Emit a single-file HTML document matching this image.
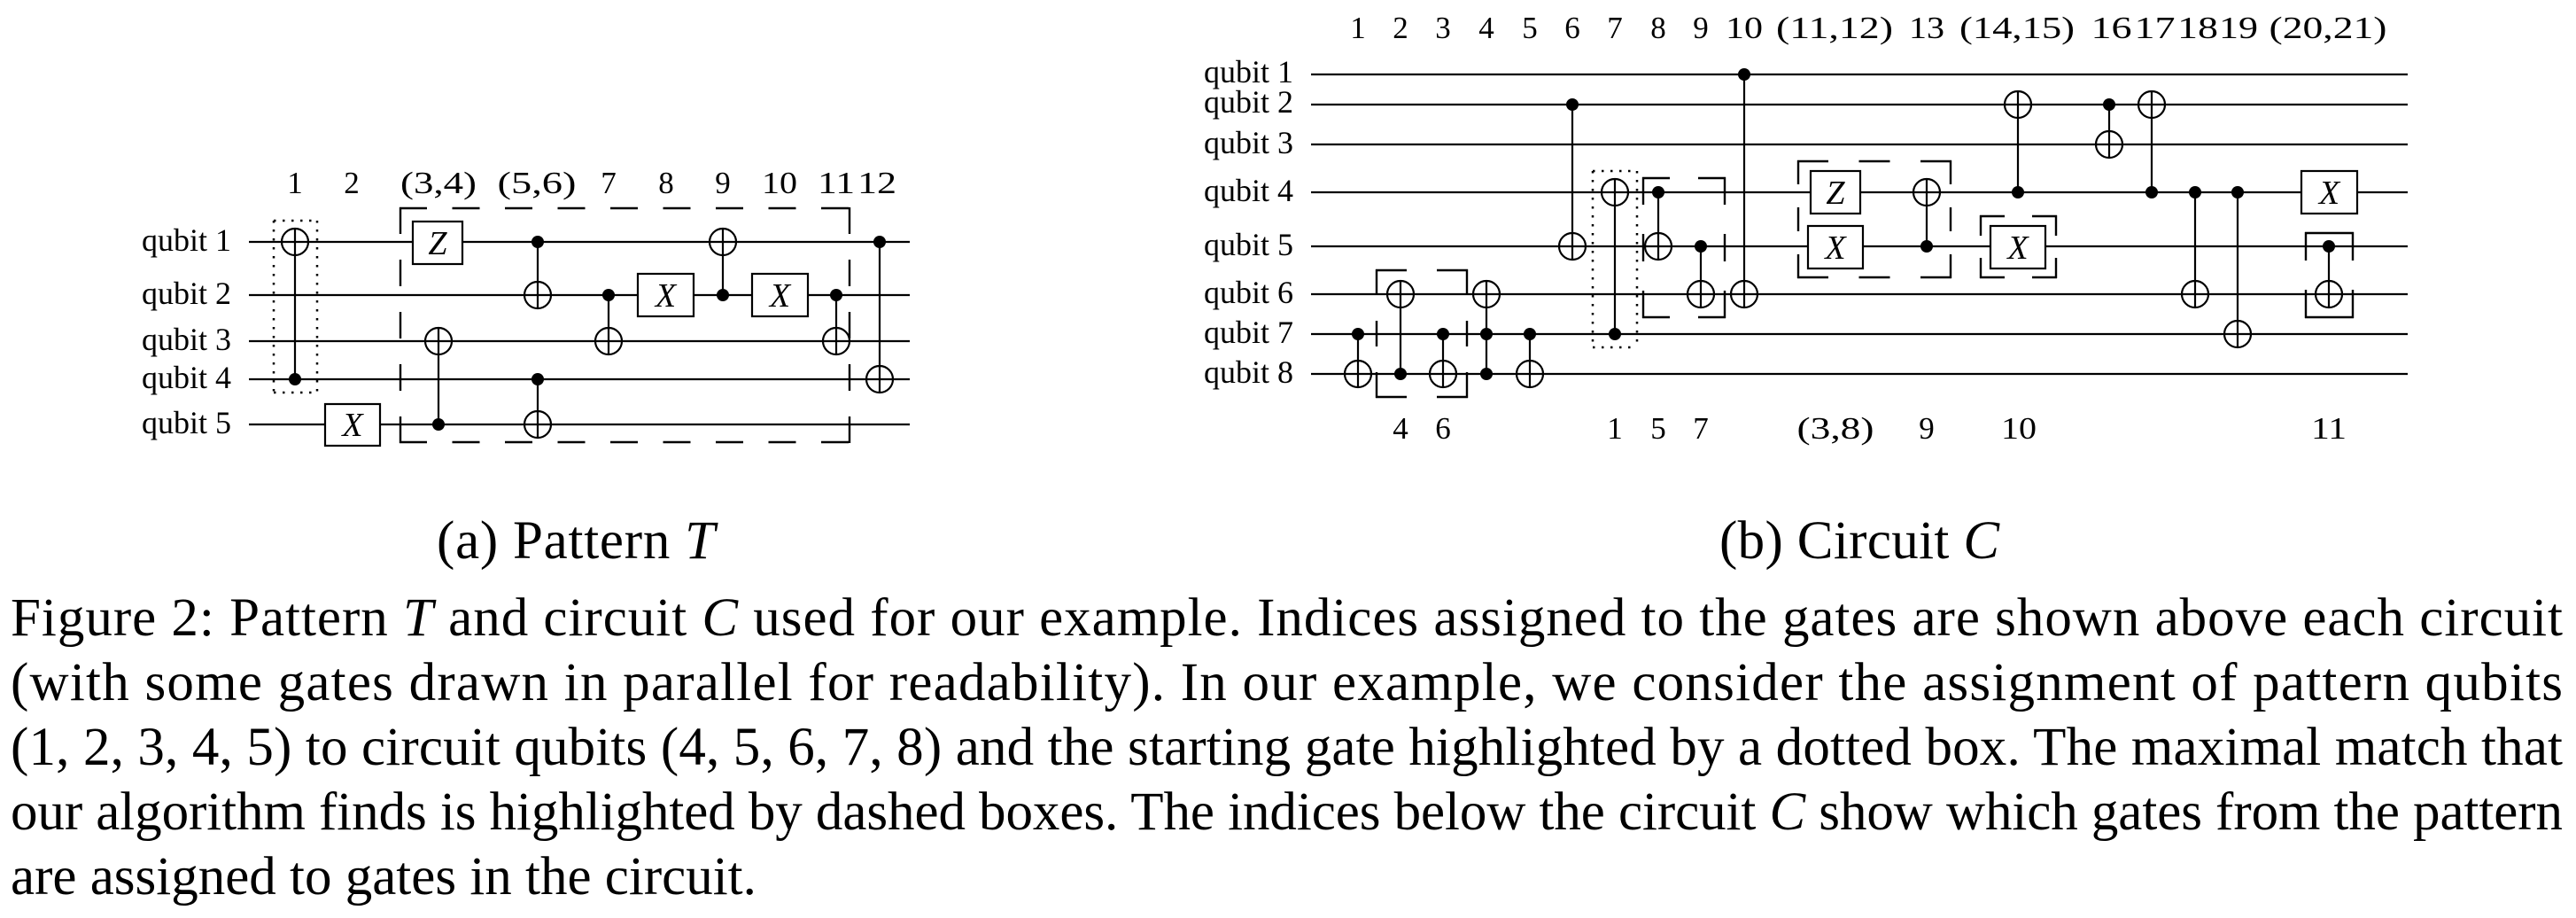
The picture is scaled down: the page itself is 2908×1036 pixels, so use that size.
<!DOCTYPE html>
<html>
<head>
<meta charset="utf-8">
<style>
  html,body{margin:0;padding:0;background:#fff;}
  svg{display:block;}
  text{font-family:"Liberation Serif","Times New Roman",serif;fill:#000;}
</style>
</head>
<body>
<svg width="2908" height="1036" viewBox="0 0 2908 1036" xmlns="http://www.w3.org/2000/svg">
<rect x="0" y="0" width="2908" height="1036" fill="#fff"/>

<!-- ================= PATTERN T ================= -->
<g stroke="#000" stroke-width="2.2" fill="none">
  <line x1="281" y1="273" x2="1027" y2="273"/>
  <line x1="281" y1="333" x2="1027" y2="333"/>
  <line x1="281" y1="385" x2="1027" y2="385"/>
  <line x1="281" y1="428" x2="1027" y2="428"/>
  <line x1="281" y1="479" x2="1027" y2="479"/>

  <line x1="333" y1="258" x2="333" y2="428"/>
  <circle cx="333" cy="273" r="15"/>
  <line x1="495" y1="370" x2="495" y2="479"/>
  <circle cx="495" cy="385" r="15"/>
  <line x1="607" y1="273" x2="607" y2="348"/>
  <circle cx="607" cy="333" r="15"/>
  <line x1="607" y1="428" x2="607" y2="494"/>
  <circle cx="607" cy="479" r="15"/>
  <line x1="687" y1="333" x2="687" y2="400"/>
  <circle cx="687" cy="385" r="15"/>
  <line x1="816" y1="258" x2="816" y2="333"/>
  <circle cx="816" cy="273" r="15"/>
  <line x1="944" y1="333" x2="944" y2="400"/>
  <circle cx="944" cy="385" r="15"/>
  <line x1="993" y1="273" x2="993" y2="443"/>
  <circle cx="993" cy="428" r="15"/>

  <rect x="367" y="456" width="62" height="47" fill="#fff"/>
  <rect x="466" y="250" width="56" height="48" fill="#fff"/>
  <rect x="720" y="309" width="63" height="48" fill="#fff"/>
  <rect x="849" y="309" width="63" height="48" fill="#fff"/>
</g>
<g fill="#000">
  <circle cx="333" cy="428" r="7"/>
  <circle cx="495" cy="479" r="7"/>
  <circle cx="607" cy="273" r="7"/>
  <circle cx="607" cy="428" r="7"/>
  <circle cx="687" cy="333" r="7"/>
  <circle cx="816" cy="333" r="7"/>
  <circle cx="944" cy="333" r="7"/>
  <circle cx="993" cy="273" r="7"/>
</g>
<g font-size="38" font-style="italic" text-anchor="middle">
  <text x="398" y="492">X</text>
  <text x="494" y="287">Z</text>
  <text x="751.5" y="346">X</text>
  <text x="880.5" y="346">X</text>
</g>

<g stroke="#000" stroke-width="2.5" fill="none" stroke-dasharray="2.5 7.5">
  <line x1="309" y1="249" x2="358" y2="249"/>
  <line x1="309" y1="443" x2="358" y2="443"/>
  <line x1="309" y1="249" x2="309" y2="443"/>
  <line x1="358" y1="249" x2="358" y2="443"/>
</g>
<g stroke="#000" stroke-width="2.4" fill="none">
  <line x1="451" y1="235" x2="960" y2="235" stroke-dasharray="31 28.5"/>
  <line x1="451" y1="499" x2="960" y2="499" stroke-dasharray="31 28.5"/>
  <line x1="452" y1="234" x2="452" y2="500" stroke-dasharray="30 29"/>
  <line x1="959" y1="234" x2="959" y2="500" stroke-dasharray="30 29"/>
</g>

<g font-size="36">
  <text x="160" y="283">qubit 1</text>
  <text x="160" y="343">qubit 2</text>
  <text x="160" y="395">qubit 3</text>
  <text x="160" y="438">qubit 4</text>
  <text x="160" y="489">qubit 5</text>
</g>
<g font-size="35" text-anchor="middle">
  <text x="333" y="218">1</text>
  <text x="397" y="218">2</text>
  <text x="495" y="218" textLength="86" lengthAdjust="spacingAndGlyphs">(3,4)</text>
  <text x="606" y="218" textLength="89" lengthAdjust="spacingAndGlyphs">(5,6)</text>
  <text x="687" y="218">7</text>
  <text x="752" y="218">8</text>
  <text x="816" y="218">9</text>
  <text x="880" y="218" textLength="40" lengthAdjust="spacingAndGlyphs">10</text>
  <text x="944" y="218" textLength="42" lengthAdjust="spacingAndGlyphs">11</text>
  <text x="990" y="218" textLength="44" lengthAdjust="spacingAndGlyphs">12</text>
</g>

<!-- ================= CIRCUIT C ================= -->
<g stroke="#000" stroke-width="2.2" fill="none">
  <line x1="1480" y1="84" x2="2718" y2="84"/>
  <line x1="1480" y1="118" x2="2718" y2="118"/>
  <line x1="1480" y1="163" x2="2718" y2="163"/>
  <line x1="1480" y1="217" x2="2718" y2="217"/>
  <line x1="1480" y1="278" x2="2718" y2="278"/>
  <line x1="1480" y1="332" x2="2718" y2="332"/>
  <line x1="1480" y1="377" x2="2718" y2="377"/>
  <line x1="1480" y1="422" x2="2718" y2="422"/>

  <line x1="1533" y1="377" x2="1533" y2="437"/>
  <circle cx="1533" cy="422" r="15"/>
  <line x1="1581" y1="317" x2="1581" y2="422"/>
  <circle cx="1581" cy="332" r="15"/>
  <line x1="1629" y1="377" x2="1629" y2="437"/>
  <circle cx="1629" cy="422" r="15"/>
  <line x1="1678" y1="317" x2="1678" y2="422"/>
  <circle cx="1678" cy="332" r="15"/>
  <line x1="1727" y1="377" x2="1727" y2="437"/>
  <circle cx="1727" cy="422" r="15"/>
  <line x1="1775" y1="118" x2="1775" y2="293"/>
  <circle cx="1775" cy="278" r="15"/>
  <line x1="1823" y1="202" x2="1823" y2="377"/>
  <circle cx="1823" cy="217" r="15"/>
  <line x1="1872" y1="217" x2="1872" y2="293"/>
  <circle cx="1872" cy="278" r="15"/>
  <line x1="1920" y1="278" x2="1920" y2="347"/>
  <circle cx="1920" cy="332" r="15"/>
  <line x1="1969" y1="84" x2="1969" y2="347"/>
  <circle cx="1969" cy="332" r="15"/>
  <line x1="2175" y1="202" x2="2175" y2="278"/>
  <circle cx="2175" cy="217" r="15"/>
  <line x1="2278" y1="103" x2="2278" y2="217"/>
  <circle cx="2278" cy="118" r="15"/>
  <line x1="2381" y1="118" x2="2381" y2="178"/>
  <circle cx="2381" cy="163" r="15"/>
  <line x1="2429" y1="103" x2="2429" y2="217"/>
  <circle cx="2429" cy="118" r="15"/>
  <line x1="2478" y1="217" x2="2478" y2="347"/>
  <circle cx="2478" cy="332" r="15"/>
  <line x1="2526" y1="217" x2="2526" y2="392"/>
  <circle cx="2526" cy="377" r="15"/>
  <line x1="2629" y1="278" x2="2629" y2="347"/>
  <circle cx="2629" cy="332" r="15"/>

  <rect x="2044" y="193" width="56" height="48" fill="#fff"/>
  <rect x="2041" y="255" width="62" height="48" fill="#fff"/>
  <rect x="2247" y="255" width="62" height="48" fill="#fff"/>
  <rect x="2598" y="193" width="63" height="48" fill="#fff"/>
</g>
<g fill="#000">
  <circle cx="1533" cy="377" r="7"/>
  <circle cx="1581" cy="422" r="7"/>
  <circle cx="1629" cy="377" r="7"/>
  <circle cx="1678" cy="377" r="7"/>
  <circle cx="1678" cy="422" r="7"/>
  <circle cx="1727" cy="377" r="7"/>
  <circle cx="1775" cy="118" r="7"/>
  <circle cx="1823" cy="377" r="7"/>
  <circle cx="1872" cy="217" r="7"/>
  <circle cx="1920" cy="278" r="7"/>
  <circle cx="1969" cy="84" r="7"/>
  <circle cx="2175" cy="278" r="7"/>
  <circle cx="2278" cy="217" r="7"/>
  <circle cx="2381" cy="118" r="7"/>
  <circle cx="2429" cy="217" r="7"/>
  <circle cx="2478" cy="217" r="7"/>
  <circle cx="2526" cy="217" r="7"/>
  <circle cx="2629" cy="278" r="7"/>
</g>
<g font-size="38" font-style="italic" text-anchor="middle">
  <text x="2072" y="230">Z</text>
  <text x="2072" y="292">X</text>
  <text x="2278" y="292">X</text>
  <text x="2629.5" y="230">X</text>
</g>

<g stroke="#000" stroke-width="2.5" fill="none" stroke-dasharray="2.5 7.5">
  <line x1="1798" y1="193" x2="1848" y2="193"/>
  <line x1="1798" y1="392" x2="1848" y2="392"/>
  <line x1="1798" y1="193" x2="1798" y2="392"/>
  <line x1="1848" y1="193" x2="1848" y2="392"/>
</g>

<g stroke="#000" stroke-width="2.4" fill="none">
  <line x1="1553" y1="305" x2="1657" y2="305" stroke-dasharray="35 34"/>
  <line x1="1553" y1="448" x2="1657" y2="448" stroke-dasharray="35 34"/>
  <line x1="1554" y1="304" x2="1554" y2="449" stroke-dasharray="29 29"/>
  <line x1="1656" y1="304" x2="1656" y2="449" stroke-dasharray="29 29"/>

  <line x1="1854" y1="201" x2="1948" y2="201" stroke-dasharray="31 32"/>
  <line x1="1854" y1="358" x2="1948" y2="358" stroke-dasharray="31 32"/>
  <line x1="1855" y1="200" x2="1855" y2="359" stroke-dasharray="31 33"/>
  <line x1="1947" y1="200" x2="1947" y2="359" stroke-dasharray="31 33"/>

  <line x1="2029" y1="182" x2="2203" y2="182" stroke-dasharray="35 34.5"/>
  <line x1="2029" y1="313" x2="2203" y2="313" stroke-dasharray="35 34.5"/>
  <line x1="2030" y1="181" x2="2030" y2="314" stroke-dasharray="27 26"/>
  <line x1="2202" y1="181" x2="2202" y2="314" stroke-dasharray="27 26"/>

  <line x1="2235" y1="244" x2="2322" y2="244" stroke-dasharray="28 31"/>
  <line x1="2235" y1="313" x2="2322" y2="313" stroke-dasharray="28 31"/>
  <line x1="2236" y1="243" x2="2236" y2="314" stroke-dasharray="23 25"/>
  <line x1="2321" y1="243" x2="2321" y2="314" stroke-dasharray="23 25"/>

  <line x1="2602" y1="263" x2="2657" y2="263"/>
  <line x1="2602" y1="358" x2="2657" y2="358"/>
  <line x1="2603" y1="262" x2="2603" y2="359" stroke-dasharray="32 33"/>
  <line x1="2656" y1="262" x2="2656" y2="359" stroke-dasharray="32 33"/>
</g>

<g font-size="36">
  <text x="1359" y="93">qubit 1</text>
  <text x="1359" y="127">qubit 2</text>
  <text x="1359" y="173">qubit 3</text>
  <text x="1359" y="227">qubit 4</text>
  <text x="1359" y="288">qubit 5</text>
  <text x="1359" y="342">qubit 6</text>
  <text x="1359" y="387">qubit 7</text>
  <text x="1359" y="432">qubit 8</text>
</g>
<g font-size="35" text-anchor="middle">
  <text x="1533" y="43">1</text>
  <text x="1581" y="43">2</text>
  <text x="1629" y="43">3</text>
  <text x="1678" y="43">4</text>
  <text x="1727" y="43">5</text>
  <text x="1775" y="43">6</text>
  <text x="1823" y="43">7</text>
  <text x="1872" y="43">8</text>
  <text x="1920" y="43">9</text>
  <text x="1969" y="43" textLength="42" lengthAdjust="spacingAndGlyphs">10</text>
  <text x="2071" y="43" textLength="132" lengthAdjust="spacingAndGlyphs">(11,12)</text>
  <text x="2175" y="43" textLength="40" lengthAdjust="spacingAndGlyphs">13</text>
  <text x="2277" y="43" textLength="130" lengthAdjust="spacingAndGlyphs">(14,15)</text>
  <text x="2383.5" y="43" textLength="46" lengthAdjust="spacingAndGlyphs">16</text>
  <text x="2432.5" y="43" textLength="46" lengthAdjust="spacingAndGlyphs">17</text>
  <text x="2481" y="43" textLength="46" lengthAdjust="spacingAndGlyphs">18</text>
  <text x="2527" y="43" textLength="44" lengthAdjust="spacingAndGlyphs">19</text>
  <text x="2628" y="43" textLength="133" lengthAdjust="spacingAndGlyphs">(20,21)</text>

  <text x="1581" y="495">4</text>
  <text x="1629" y="495">6</text>
  <text x="1823" y="495">1</text>
  <text x="1872" y="495">5</text>
  <text x="1920" y="495">7</text>
  <text x="2072" y="495" textLength="87" lengthAdjust="spacingAndGlyphs">(3,8)</text>
  <text x="2175" y="495">9</text>
  <text x="2279" y="495" textLength="40" lengthAdjust="spacingAndGlyphs">10</text>
  <text x="2629" y="495" textLength="40" lengthAdjust="spacingAndGlyphs">11</text>
</g>

<!-- ================= CAPTIONS ================= -->
<g font-size="61">
  <text x="493" y="630" textLength="314" lengthAdjust="spacing">(a) Pattern <tspan font-style="italic">T</tspan></text>
  <text x="1941" y="630" textLength="316" lengthAdjust="spacing">(b) Circuit <tspan font-style="italic">C</tspan></text>

  <text x="12" y="717" textLength="2881" lengthAdjust="spacing">Figure 2: Pattern <tspan font-style="italic">T</tspan> and circuit <tspan font-style="italic">C</tspan> used for our example. Indices assigned to the gates are shown above each circuit</text>
  <text x="12" y="790" textLength="2881" lengthAdjust="spacing">(with some gates drawn in parallel for readability). In our example, we consider the assignment of pattern qubits</text>
  <text x="12" y="863" textLength="2881" lengthAdjust="spacing">(1, 2, 3, 4, 5) to circuit qubits (4, 5, 6, 7, 8) and the starting gate highlighted by a dotted box. The maximal match that</text>
  <text x="12" y="936" textLength="2881" lengthAdjust="spacing">our algorithm finds is highlighted by dashed boxes. The indices below the circuit <tspan font-style="italic">C</tspan> show which gates from the pattern</text>
  <text x="12" y="1009">are assigned to gates in the circuit.</text>
</g>
</svg>
</body>
</html>
